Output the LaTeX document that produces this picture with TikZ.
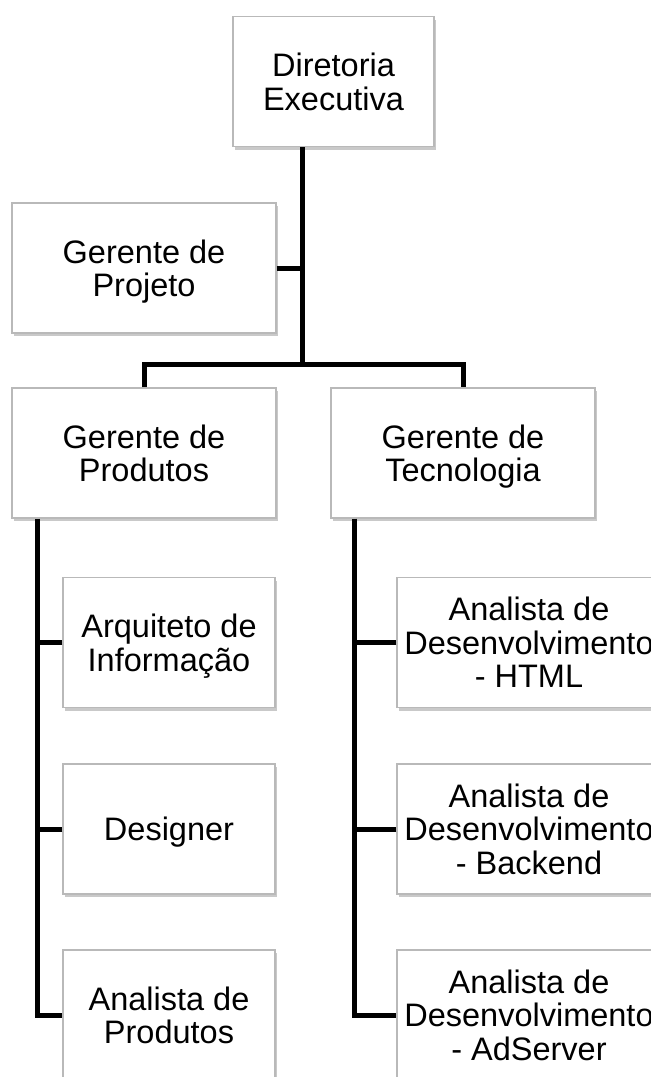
\documentclass[tikz,border=0pt]{standalone}
\usepackage{fontspec}
\setmainfont{Liberation Sans}
\usetikzlibrary{shadows}

\tikzset{
  caixa/.style={draw=gray!55, line width=1.2pt, fill=white, align=center,
    minimum height=130pt, inner sep=0pt, text depth=0pt,
    font=\fontsize{32.5}{33.5}\selectfont,
    drop shadow={shadow xshift=1.5pt, shadow yshift=-3pt, opacity=0.3, fill=black!70}},
  ligacao/.style={line width=5pt, line join=miter},
}

\begin{document}
\begin{tikzpicture}[x=1pt,y=-1pt]
\useasboundingbox (0,0) rectangle (651,1077);

% Diretoria e gerentes
\node[caixa, minimum width=201pt] (dir) at (333.5,81.5) {Diretoria\\Executiva};
\node[caixa, minimum width=264pt] (proj) at (144,268) {Gerente de\\Projeto};
\node[caixa, minimum width=264pt] (prod) at (144,453) {Gerente de\\Produtos};
\node[caixa, minimum width=264pt] (tec) at (463,453) {Gerente de\\Tecnologia};

% Equipe de produtos
\node[caixa, minimum width=212pt] (arq) at (169,642.5) {Arquiteto de\\Informação};
\node[caixa, minimum width=212pt] (des) at (169,829) {Designer};
\node[caixa, minimum width=212pt] (anp) at (169,1015) {Analista de\\Produtos};

% Equipe de tecnologia
\node[caixa, minimum width=264pt] (html) at (529,642.5) {Analista de\\Desenvolvimento\\- HTML};
\node[caixa, minimum width=264pt] (back) at (529,829) {Analista de\\Desenvolvimento\\- Backend};
\node[caixa, minimum width=264pt] (ads) at (529,1015) {Analista de\\Desenvolvimento\\- AdServer};

% Tronco principal
\coordinate (juncao) at (302.5,364);
\draw[ligacao] (dir.south -| juncao) -- (juncao);
\draw[ligacao] (proj.east) -- (proj.east -| juncao);
\draw[ligacao] (prod.north) |- (juncao) -| (tec.north);

% Eixos das equipes
\coordinate (eixoP) at ([xshift=26pt]prod.south west);
\coordinate (eixoT) at ([xshift=24pt]tec.south west);
\draw[ligacao] (eixoP) |- (anp.west);
\draw[ligacao] (arq.west) -- (arq.west -| eixoP);
\draw[ligacao] (des.west) -- (des.west -| eixoP);
\draw[ligacao] (eixoT) |- (ads.west);
\draw[ligacao] (html.west) -- (html.west -| eixoT);
\draw[ligacao] (back.west) -- (back.west -| eixoT);

\end{tikzpicture}
\end{document}
